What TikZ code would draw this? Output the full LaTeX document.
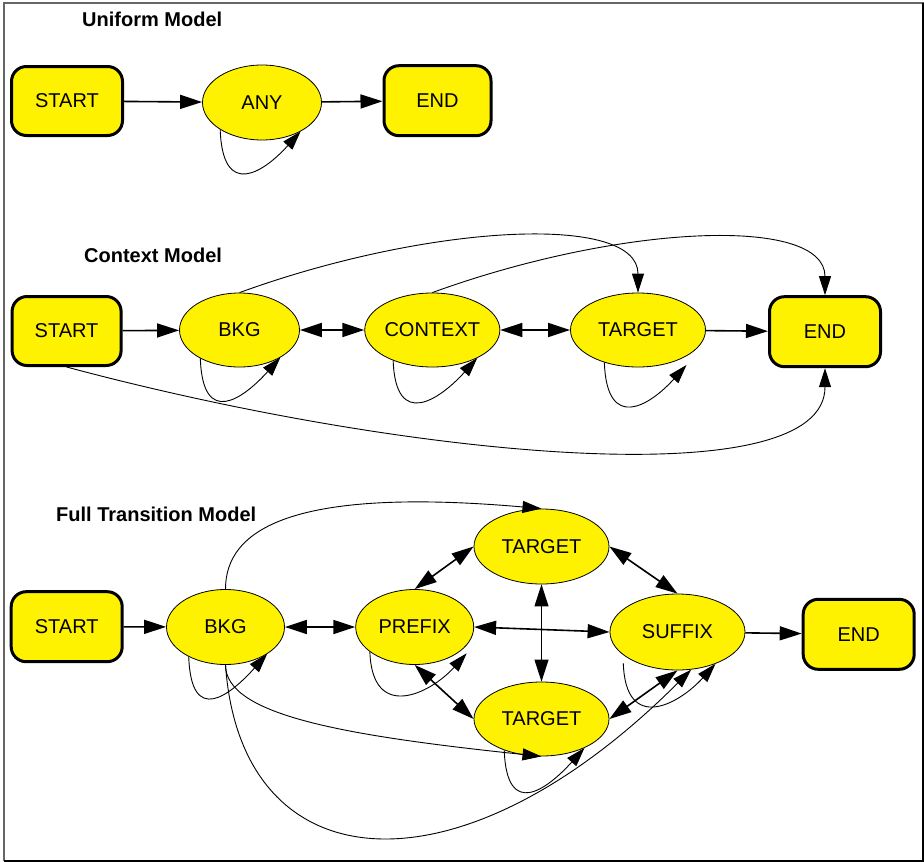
\documentclass[tikz,border=0pt]{standalone}
\usepackage{fontspec}
\setmainfont{Liberation Sans}
\usetikzlibrary{shapes.geometric,arrows.meta}
\newcommand\statefont{\fontsize{20}{24}\selectfont}
\newcommand\titlefont{\fontsize{20}{24}\selectfont\bfseries}
\tikzset{
  box/.style={rectangle, rounded corners=15pt, draw, line width=3pt, fill=yellow,
    minimum width=111pt, minimum height=70pt, inner sep=0pt, font=\statefont},
  state/.style={ellipse, draw, line width=0.8pt, fill=yellow, inner sep=0pt, font=\statefont},
  heading/.style={anchor=base west, inner sep=0pt, font=\titlefont},
  fwd/.style={line width=1.6pt, -{Triangle[length=22pt,width=14pt]}},
  both/.style={line width=1.6pt, {Triangle[length=22pt,width=14pt]}-{Triangle[length=22pt,width=14pt]}},
  curve/.style={line width=0.9pt, -{Triangle[length=19pt,width=12pt]}},
  selfloop/.style={curve, out=-88, in=228, out distance=70, in distance=55},
}
\begin{document}
\begin{tikzpicture}[x=1pt,y=1pt]
  \useasboundingbox (0,0) rectangle (924,-862);
  % frame
  \draw[line width=1.2pt, gray!80!black] (4,-3) rectangle (923,-860.5);
  \draw[line width=2pt, black] (923,-3) -- (923,-860.5) -- (4,-860.5);

  % ---------- Uniform Model ----------
  \node[heading] (t1) at (82,-26) {Uniform Model};
  \node[box, minimum width=111pt, minimum height=69pt] (s1) at (67,-101) {START};
  \node[state, minimum width=119pt, minimum height=75pt] (any) at (262,-102.5) {ANY};
  \node[box, minimum width=107pt, minimum height=70pt] (e1) at (437.5,-100.7) {END};
  \draw[fwd] (s1) -- (any);
  \draw[fwd] (any) -- (e1);
  \draw[selfloop] (any.213) to (any.-37);

  % ---------- Context Model ----------
  \node[heading] (t2) at (84,-262.7) {Context Model};
  \node[box, minimum width=109pt, minimum height=69pt] (s2) at (66.6,-331) {START};
  \node[state, minimum width=120pt, minimum height=74pt] (bkg2) at (239.5,-330) {BKG};
  \node[state, minimum width=132pt, minimum height=74pt] (ctx) at (432.3,-330) {CONTEXT};
  \node[state, minimum width=135pt, minimum height=74pt] (tgt2) at (638,-330) {TARGET};
  \node[box, minimum width=111pt, minimum height=70pt] (e2) at (825,-331.7) {END};
  \coordinate (tgt2tip) at (686.5,-365);
  \draw[fwd] (s2) -- (bkg2);
  \draw[both] (bkg2) -- (ctx);
  \draw[both] (ctx) -- (tgt2);
  \draw[fwd] (tgt2) -- (e2);
  \draw[curve] (bkg2.north) to[out=20, in=90, out distance=200, in distance=80] (tgt2.north);
  \draw[curve] (ctx.north) to[out=20, in=90, out distance=200, in distance=80] (e2.north);
  \draw[curve] (s2.south) to[out=-15, in=-90, out distance=350, in distance=130] (e2.south);
  \draw[selfloop] (bkg2.216) to (bkg2.-34);
  \draw[selfloop] (ctx.218) to (ctx.-32);
  \draw[selfloop] (tgt2.224) to (tgt2tip);

  % ---------- Full Transition Model ----------
  \node[heading] (t3) at (56,-521.7) {Full Transition Model};
  \node[box, minimum width=111pt, minimum height=70pt] (s3) at (66.7,-626.7) {START};
  \node[state, minimum width=118pt, minimum height=75pt] (bkg3) at (225.5,-627) {BKG};
  \node[state, minimum width=118pt, minimum height=75pt] (pre) at (414.7,-627) {PREFIX};
  \node[state, minimum width=135pt, minimum height=75pt] (tt) at (541.5,-546.5) {TARGET};
  \node[state, minimum width=135pt, minimum height=74pt] (tb) at (541.5,-719) {TARGET};
  \node[state, minimum width=135pt, minimum height=76pt] (suf) at (677.5,-632) {SUFFIX};
  \node[box, minimum width=111pt, minimum height=70pt] (e3) at (858.7,-634.3) {END};
  \coordinate (pretip) at (466.7,-653.3);
  \coordinate (sufstart) at (623.3,-663.3);

  \draw[fwd] (s3) -- (bkg3);
  \draw[both] (bkg3) -- (pre);
  \draw[both] (pre.north) -- (tt.west);
  \draw[both] (pre.east) -- (suf.west);
  \draw[both] (pre.south) -- (tb.west);
  \draw[both, line width=0.9pt] (tt.south) -- (tb.north);
  \draw[both] (tt.east) -- (suf.north);
  \draw[both] (suf.south) -- (tb.east);
  \draw[fwd] (suf) -- (e3);

  \draw[curve] (bkg3.north) to[out=90, in=175, out distance=60, in distance=250] (tt.north);
  \draw[curve] (bkg3.south) to[out=-90, in=174, out distance=50, in distance=200] (tb.south);
  \draw[curve] (bkg3.south) to[out=-86, in=225, out distance=220, in distance=330] (suf.-70);

  \draw[selfloop] (bkg3.219) to (bkg3.-33);
  \draw[selfloop] (pre.209) to (pretip);
  \draw[selfloop] (tb.220) to (tb.-34);
  \draw[selfloop] (sufstart) to (suf.-40);
\end{tikzpicture}
\end{document}
